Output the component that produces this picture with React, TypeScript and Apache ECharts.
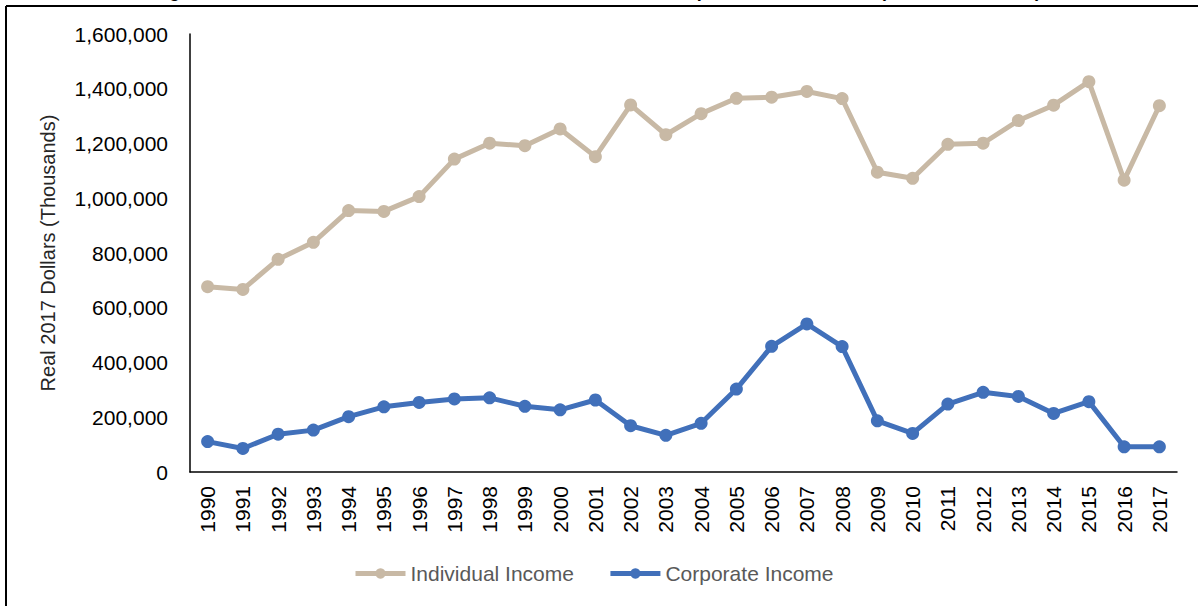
import React, { useEffect, useRef } from "react";
import * as echarts from "echarts";

const years = [
  "1990", "1991", "1992", "1993", "1994", "1995", "1996", "1997", "1998", "1999",
  "2000", "2001", "2002", "2003", "2004", "2005", "2006", "2007", "2008", "2009",
  "2010", "2011", "2012", "2013", "2014", "2015", "2016", "2017",
];

const individualIncome = [
  677000, 667000, 777000, 839000, 955000, 952000, 1006000, 1143000, 1201000, 1192000,
  1253000, 1152000, 1341000, 1232000, 1309000, 1365000, 1369000, 1390000, 1364000, 1095000,
  1073000, 1197000, 1201000, 1284000, 1340000, 1426000, 1066000, 1338000,
];

const corporateIncome = [
  111000, 86000, 138000, 153000, 202000, 238000, 254000, 267000, 271000, 240000,
  227000, 263000, 169000, 134000, 178000, 303000, 459000, 541000, 458000, 187000,
  141000, 248000, 291000, 276000, 214000, 257000, 92000, 92000,
];

const seriesNames = ["Individual Income", "Corporate Income"];
const titleText =
  "Figure 3. Federal Income Tax Revenue from Individuals and Corporations, 1990-2017 (Real 2017 Dollars)";
const yAxisTitle = "Real 2017 Dollars (Thousands)";

const FONT = "'Liberation Sans', Arial, sans-serif";

export default function App() {
  const ref = useRef<HTMLDivElement>(null);

  useEffect(() => {
    if (!ref.current) return;
    const chart = echarts.init(ref.current, null, { renderer: "svg" });
    chart.setOption({
      animation: false,
      backgroundColor: "#ffffff",
      textStyle: { fontFamily: FONT },
      graphic: [
        {
          type: "text",
          x: 597,
          y: -9,
          style: {
            text: titleText,
            fontFamily: FONT,
            fontSize: 18,
            fontWeight: "bold",
            fill: "#000",
            textAlign: "center",
            textVerticalAlign: "middle",
          },
        },
        {
          type: "line",
          shape: { x1: 6, y1: 6, x2: 1198, y2: 6 },
          style: { stroke: "#000", lineWidth: 2 },
        },
        {
          type: "line",
          shape: { x1: 6, y1: 6, x2: 6, y2: 606 },
          style: { stroke: "#000", lineWidth: 2 },
        },
      ],
      grid: { left: 190, right: 21, top: 34, bottom: 134, containLabel: false },
      legend: {
        data: seriesNames,
        left: 348,
        top: 558,
        itemWidth: 50,
        itemHeight: 13,
        itemGap: 34,
        lineStyle: { width: 5 },
        textStyle: { fontFamily: FONT, fontSize: 21, color: "#595959" },
      },
      xAxis: {
        type: "category",
        data: years,
        boundaryGap: true,
        axisLine: { show: true, lineStyle: { color: "#000", width: 1.5 } },
        axisTick: { show: false },
        axisLabel: {
          rotate: 90,
          margin: 14,
          interval: 0,
          fontFamily: FONT,
          fontSize: 21,
          color: "#000",
        },
        splitLine: { show: false },
      },
      yAxis: {
        type: "value",
        min: 0,
        max: 1600000,
        interval: 200000,
        name: yAxisTitle,
        nameLocation: "middle",
        nameRotate: 90,
        nameGap: 132,
        nameTextStyle: { fontFamily: FONT, fontSize: 20, color: "#262626" },
        axisLine: { show: true, lineStyle: { color: "#000", width: 1.5 } },
        axisTick: { show: false },
        axisLabel: {
          margin: 22,
          fontFamily: FONT,
          fontSize: 21,
          color: "#000",
          formatter: (v: number) => v.toLocaleString("en-US"),
        },
        splitLine: { show: false },
      },
      series: [
        {
          name: seriesNames[0],
          type: "line",
          data: individualIncome,
          symbol: "circle",
          symbolSize: 13,
          lineStyle: { color: "#C8B9A5", width: 5 },
          itemStyle: { color: "#C8B9A5" },
        },
        {
          name: seriesNames[1],
          type: "line",
          data: corporateIncome,
          symbol: "circle",
          symbolSize: 13,
          lineStyle: { color: "#4170BA", width: 5 },
          itemStyle: { color: "#4170BA" },
        },
      ],
    });
    return () => chart.dispose();
  }, []);

  return (
    <div
      ref={ref}
      style={{ position: "fixed", left: 0, top: 0, width: 1198, height: 606 }}
    />
  );
}
